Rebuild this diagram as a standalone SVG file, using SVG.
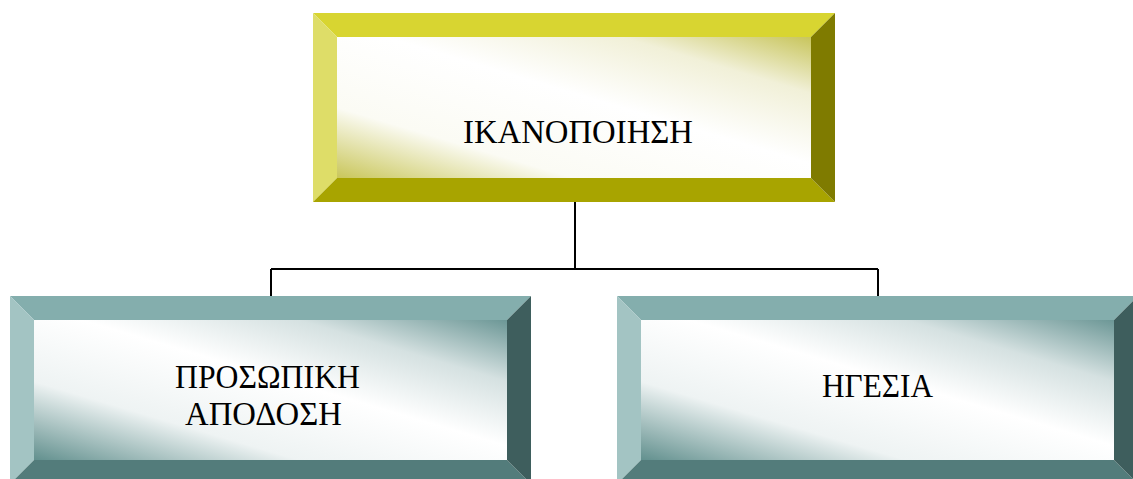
<svg xmlns="http://www.w3.org/2000/svg" width="1133" height="479" viewBox="0 0 1133 479">
<defs>
<linearGradient id="gy" x1="0" y1="1" x2="1" y2="0">
<stop offset="0" stop-color="#C9C65A"/>
<stop offset="0.25" stop-color="#FBFBF4"/>
<stop offset="0.55" stop-color="#FFFFFF"/>
<stop offset="0.8" stop-color="#F1F0D8"/>
<stop offset="1" stop-color="#C8C55C"/>
</linearGradient>
<linearGradient id="gt" x1="0" y1="1" x2="1" y2="0">
<stop offset="0" stop-color="#62908E"/>
<stop offset="0.28" stop-color="#EEF3F3"/>
<stop offset="0.55" stop-color="#FFFFFF"/>
<stop offset="0.78" stop-color="#D5E1E1"/>
<stop offset="1" stop-color="#6C9796"/>
</linearGradient>
<style>
.t{font-family:"Liberation Serif","Times New Roman",serif;font-size:34px;fill:#000}
.c{stroke:#000;stroke-width:2;fill:none}
.yt{fill:#D8D531}.yl{fill:#DEDD68}.yb{fill:#A8A400}.yr{fill:#7F7B00}
.tt{fill:#84AEAD}.tl{fill:#A3C4C3}.tb{fill:#537C7B}.tr{fill:#3E5E5D}
</style>
</defs>
<g id="connectors">
<path class="c" d="M575 202V269M271 269H878M271 269V296M878 269V296"/>
</g>
<g id="node-top">
<polygon class="yt" points="313,13 835,13 811,37 337,37"/>
<polygon class="yl" points="313,13 337,37 337,178 313,202"/>
<polygon class="yb" points="313,202 337,178 811,178 835,202"/>
<polygon class="yr" points="835,13 835,202 811,178 811,37"/>
<rect x="337" y="37" width="474" height="141" fill="url(#gy)"/>
<text class="t" x="463" y="143" textLength="230" lengthAdjust="spacingAndGlyphs">ΙΚΑΝΟΠΟΙΗΣΗ</text>
</g>
<g id="node-left">
<polygon class="tt" points="10,296 531,296 507,320 34,320"/>
<polygon class="tl" points="10,296 34,320 34,460 10,484"/>
<polygon class="tb" points="10,484 34,460 507,460 531,484"/>
<polygon class="tr" points="531,296 531,484 507,460 507,320"/>
<rect x="34" y="320" width="473" height="140" fill="url(#gt)"/>
<text class="t" x="175" y="388" textLength="185" lengthAdjust="spacingAndGlyphs">ΠΡΟΣΩΠΙΚΗ</text>
<text class="t" x="185" y="425" textLength="157" lengthAdjust="spacingAndGlyphs">ΑΠΟΔΟΣΗ</text>
</g>
<g id="node-right">
<polygon class="tt" points="617,296 1138,296 1114,320 641,320"/>
<polygon class="tl" points="617,296 641,320 641,460 617,484"/>
<polygon class="tb" points="617,484 641,460 1114,460 1138,484"/>
<polygon class="tr" points="1138,296 1138,484 1114,460 1114,320"/>
<rect x="641" y="320" width="473" height="140" fill="url(#gt)"/>
<text class="t" x="822" y="397" textLength="111" lengthAdjust="spacingAndGlyphs">ΗΓΕΣΙΑ</text>
</g>
</svg>
